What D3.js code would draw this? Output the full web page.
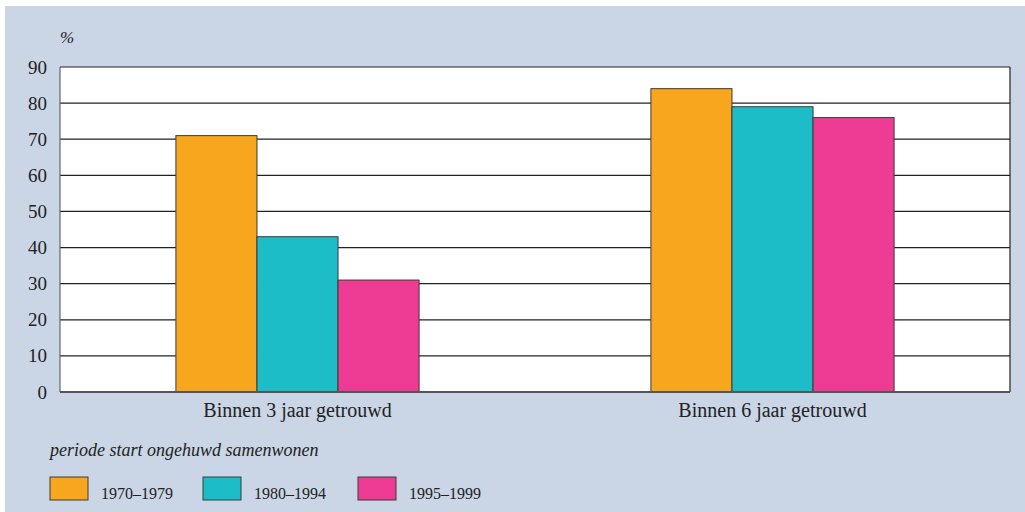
<!DOCTYPE html>
<html>
<head>
<meta charset="utf-8">
<script src="https://cdn.jsdelivr.net/npm/d3@7"></script>
<style>
  body { margin: 0; background: #fff; }
  svg text { font-family: "Liberation Serif", serif; fill: #222; }
</style>
</head>
<body>
<div id="chart"></div>
<script>
// samenwonen -> getrouwd, per periode
var categories = ["Binnen 3 jaar getrouwd", "Binnen 6 jaar getrouwd"];
var periods = ["1970–1979", "1980–1994", "1995–1999"];
var v1970 = [71, 84];
var v1980 = [43, 79];
var v1995 = [31, 76];
var yTicks = [0, 10, 20, 30, 40, 50, 60, 70, 80, 90];
var colors = ["#f8a61d", "#1dbdc7", "#ee3c95"];

var seriesValues = [v1970, v1980, v1995];

var W = 1025, H = 512;
var margin = {top: 67, right: 15, bottom: 120, left: 60},
    width = W - margin.left - margin.right,
    height = H - margin.top - margin.bottom;

var svg = d3.select("#chart").append("svg")
    .attr("width", W)
    .attr("height", H);

// blue panel
svg.append("rect")
    .attr("x", 5).attr("y", 6)
    .attr("width", W - 5).attr("height", H - 6)
    .attr("fill", "#cad6e6");

var g = svg.append("g")
    .attr("transform", "translate(" + margin.left + "," + margin.top + ")");

var x0 = d3.scaleBand()
    .domain(categories)
    .range([0, width]);

var x1 = d3.scaleBand()
    .domain(periods)
    .range([0, x0.bandwidth()])
    .paddingOuter(1.43);

var y = d3.scaleLinear()
    .domain([0, 90])
    .range([height, 0]);

g.append("rect")
    .attr("width", width)
    .attr("height", height)
    .attr("fill", "#fff");

// gridlines
g.append("g")
    .selectAll("line")
    .data(yTicks.filter(function(d) { return d > 0; }))
  .enter().append("line")
    .attr("x1", 0).attr("x2", width)
    .attr("y1", function(d) { return y(d); })
    .attr("y2", function(d) { return y(d); })
    .attr("stroke", "#222")
    .attr("stroke-width", 1.2);

// bars
var rows = [];
categories.forEach(function(c, i) {
  periods.forEach(function(p, j) {
    rows.push({cat: c, period: p, value: seriesValues[j][i], color: colors[j]});
  });
});

g.append("g")
    .selectAll("rect")
    .data(rows)
  .enter().append("rect")
    .attr("x", function(d) { return x0(d.cat) + x1(d.period); })
    .attr("y", function(d) { return y(d.value); })
    .attr("width", x1.bandwidth())
    .attr("height", function(d) { return height - y(d.value); })
    .attr("fill", function(d) { return d.color; })
    .attr("stroke", "#3a3a3a")
    .attr("stroke-width", 1);

// frame
g.append("line").attr("x1", width).attr("x2", width).attr("y1", 0).attr("y2", height)
    .attr("stroke", "#222").attr("stroke-width", 1.2);
g.append("line").attr("x1", 0).attr("x2", 0).attr("y1", 0).attr("y2", height)
    .attr("stroke", "#666").attr("stroke-width", 1.2);
g.append("line").attr("x1", 0).attr("x2", width).attr("y1", height).attr("y2", height)
    .attr("stroke", "#555").attr("stroke-width", 1.8);

// axes
var yAxis = d3.axisLeft(y)
    .tickValues(yTicks)
    .tickSize(0)
    .tickPadding(13);

g.append("g")
    .attr("class", "y axis")
    .call(yAxis)
    .call(function(s) { s.select(".domain").remove(); })
    .selectAll("text")
    .style("font-family", "'Liberation Serif', serif")
    .style("font-size", "19px")
    .attr("fill", "#222");

var xAxis = d3.axisBottom(x0)
    .tickSize(0)
    .tickPadding(11);

g.append("g")
    .attr("class", "x axis")
    .attr("transform", "translate(0," + height + ")")
    .call(xAxis)
    .call(function(s) { s.select(".domain").remove(); })
    .selectAll("text")
    .style("font-family", "'Liberation Serif', serif")
    .style("font-size", "20px")
    .attr("fill", "#222");

svg.append("text")
    .attr("x", 60).attr("y", 43)
    .style("font-style", "italic")
    .style("font-size", "17px")
    .text("%");

// legend
svg.append("text")
    .attr("x", 50).attr("y", 456)
    .style("font-style", "italic")
    .style("font-size", "18px")
    .text("periode start ongehuwd samenwonen");

var legX = [50, 203, 358];
var leg = svg.append("g").selectAll("g")
    .data(periods)
  .enter().append("g")
    .attr("transform", function(d, i) { return "translate(" + legX[i] + ",477)"; });

leg.append("rect")
    .attr("width", 38).attr("height", 23)
    .attr("fill", function(d, i) { return colors[i]; })
    .attr("stroke", "#3a3a3a");

leg.append("text")
    .attr("x", 51).attr("y", 22)
    .style("font-size", "16px")
    .text(function(d) { return d; });
</script>
</body>
</html>
